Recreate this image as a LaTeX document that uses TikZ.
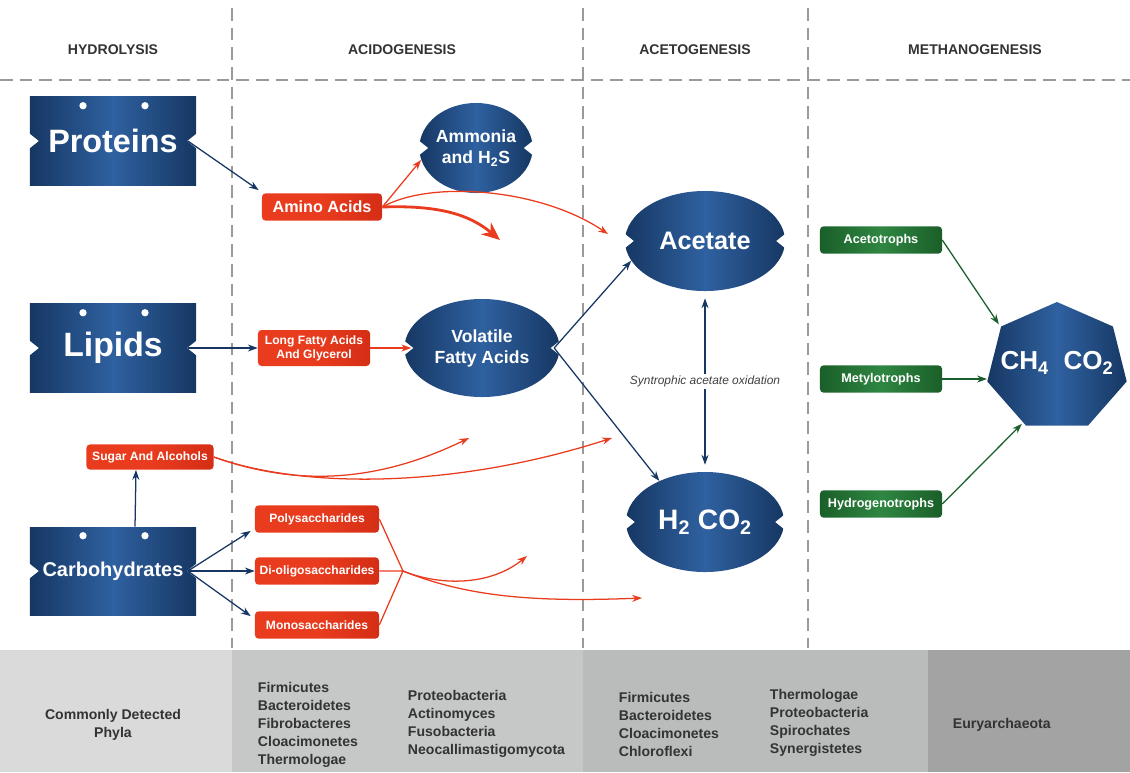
\documentclass[tikz,border=0pt]{standalone}
\usepackage{fontspec}
\setmainfont{Liberation Sans}
\usetikzlibrary{shapes.geometric,positioning,arrows.meta}

\definecolor{navy}{HTML}{163763}
\definecolor{navylight}{HTML}{2F61A0}
\definecolor{rojo}{HTML}{E93C1E}
\definecolor{rojodark}{HTML}{D42E16}
\definecolor{verde}{HTML}{1A5F29}
\definecolor{verdelight}{HTML}{2F8642}
\definecolor{linea}{HTML}{9A9A9A}
\definecolor{gris1}{HTML}{DADADA}
\definecolor{gris2}{HTML}{C6C8C8}
\definecolor{gris3}{HTML}{BABCBC}
\definecolor{gris4}{HTML}{A3A3A3}

\tikzset{
	sustrato/.style={rectangle, left color=navy, right color=navy, middle color=navylight,
		text=white, minimum width=4.15cm, minimum height=2.2cm},
	producto/.style={ellipse, left color=navy, right color=navy, middle color=navylight,
		text=white, align=center, inner sep=0pt},
	interm/.style={rectangle, rounded corners=2.5pt, left color=rojo, right color=rojodark, middle color=rojo,
		text=white, font=\bfseries\fontsize{8.6}{10}\selectfont, minimum width=3.1cm,
		minimum height=0.68cm, align=center, inner sep=1pt},
	microbio/.style={rectangle, rounded corners=2.5pt, left color=verde, right color=verde, middle color=verdelight,
		text=white, font=\bfseries\fontsize{9}{11}\selectfont, minimum width=3.05cm,
		minimum height=0.68cm},
	fase/.style={font=\bfseries\fontsize{10}{12}\selectfont, text=black!80},
	filo/.style={font=\bfseries\fontsize{10}{12.8}\selectfont, text=black!80, align=left, anchor=west},
	division/.style={linea, line width=1.1pt, dash pattern=on 9pt off 5pt},
	flechaazul/.style={navy, line width=0.9pt, -{Stealth[length=7pt,width=5pt]}},
	flecharoja/.style={rojo, line width=0.9pt, -{Stealth[length=7pt,width=5pt]}},
	flechaverde/.style={verde, line width=0.9pt, -{Stealth[length=7pt,width=5pt]}}
}

% muescas blancas a los lados de una forma
\newcommand{\muesca}[1]{%
	\fill[white] ([shift={(-1,-8)}]#1.west) -- ([shift={(9,0)}]#1.west) -- ([shift={(-1,8)}]#1.west) -- cycle;
	\fill[white] ([shift={(1,-8)}]#1.east) -- ([shift={(-9,0)}]#1.east) -- ([shift={(1,8)}]#1.east) -- cycle;}
\newcommand{\ojales}[1]{%
	\fill[white] ([shift={(-30,9)}]#1.north) circle (2.6pt) ([shift={(32,9)}]#1.north) circle (2.6pt);}

\begin{document}
\begin{tikzpicture}[x=0.025cm, y=-0.025cm]
	\useasboundingbox (0,0) rectangle (1130,772);
	
	% franja de filos
	\fill[gris1] (0,650) rectangle (232,772);
	\fill[gris2] (232,650) rectangle (583,772);
	\fill[gris3] (583,650) rectangle (928,772);
	\fill[gris4] (928,650) rectangle (1130,772);
	
	% divisiones
	\draw[division] (0,80) -- (1130,80);
	\foreach \x in {232,583,808}
		\draw[division] (\x,8) -- (\x,648);
	
	% fases
	\node[fase] (hidrolisis) at (113,50) {HYDROLYSIS};
	\node[fase] (acidogenesis) at (402,50) {ACIDOGENESIS};
	\node[fase] (acetogenesis) at (695,50) {ACETOGENESIS};
	\node[fase] (metanogenesis) at (975,50) {METHANOGENESIS};
	
	% sustratos
	\node[sustrato, font=\bfseries\fontsize{23}{27}\selectfont] (proteinas) at (113,141) {Proteins};
	\node[sustrato, font=\bfseries\fontsize{24}{28}\selectfont] (lipidos) at (113,348) {Lipids};
	\node[sustrato, font=\bfseries\fontsize{14.2}{17}\selectfont] (carbo) at (113,571) {Carbohydrates};
	\foreach \n in {proteinas,lipidos,carbo}{\muesca{\n}\ojales{\n}}
	
	% productos
	\node[producto, minimum width=2.55cm, minimum height=2.25cm,
		font=\bfseries\fontsize{12.5}{15}\selectfont] (amonio) at (476,148) {Ammonia\\and H\textsubscript{2}S};
	\node[producto, minimum width=4cm, minimum height=2.5cm,
		font=\bfseries\fontsize{18}{21}\selectfont] (acetato) at (705,241) {Acetate};
	\node[producto, minimum width=3.875cm, minimum height=2.45cm,
		font=\bfseries\fontsize{12.5}{15}\selectfont] (volatiles) at (482,348) {Volatile\\Fatty Acids};
	\node[producto, minimum width=3.95cm, minimum height=2.5cm,
		font=\bfseries\fontsize{20}{24}\selectfont] (hidrogeno) at (705,522) {H\textsubscript{2} CO\textsubscript{2}};
	\foreach \n in {amonio,acetato,volatiles,hidrogeno}{\muesca{\n}}
	\begin{scope}[shift={(1057,367)}, xscale=1.1]
		\node[regular polygon, regular polygon sides=7, minimum size=3.25cm, inner sep=0pt, transform shape,
			left color=navy, right color=navy, middle color=navylight] (metano) at (0,0) {};
	\end{scope}
	\node[text=white, font=\bfseries\fontsize{18.5}{22}\selectfont] (metanotexto) at (1057,363) {CH\textsubscript{4}\ \ CO\textsubscript{2}};
	
	% intermedios
	\node[interm, minimum width=3cm, font=\bfseries\fontsize{11.5}{13}\selectfont] (amino) at (322,207) {Amino Acids};
	\node[interm, minimum width=2.8cm, minimum height=0.9cm] (grasos) at (314,348) {Long Fatty Acids\\And Glycerol};
	\node[interm, minimum width=3.175cm, minimum height=0.63cm] (azucar) at (150,457) {Sugar And Alcohols};
	\node[interm] (poli) at (317,519) {Polysaccharides};
	\node[interm] (dioli) at (317,571) {Di-oligosaccharides};
	\node[interm] (mono) at (317,625) {Monosaccharides};
	
	% metanogenos
	\node[microbio] (acetotrofos) at (881,240) {Acetotrophs};
	\node[microbio] (metilotrofos) at (881,379) {Metylotrophs};
	\node[microbio] (hidrogenotrofos) at (881,504) {Hydrogenotrophs};
	
	% puntos libres
	\coordinate (finAmAc) at (608,234);
	\coordinate (finAmino) at (500,240);
	\coordinate (finAzucarA) at (469,438);
	\coordinate (finAzucarB) at (612,438);
	\coordinate (nudo) at (403,571);
	\coordinate (finOligoA) at (527,556);
	\coordinate (finOligoB) at (642,598);
	
	% hidrolisis
	\draw[flechaazul] ([xshift=-6pt]proteinas.east) -- ([shift={(-3,-3)}]amino.north west);
	\draw[flechaazul] ([xshift=-6pt]lipidos.east) -- (grasos.west);
	\draw[flechaazul] ([xshift=0.55cm]carbo.north) -- ([xshift=-0.35cm]azucar.south);
	\draw[flechaazul] ([xshift=-6pt]carbo.east) -- ([shift={(-4,-2)}]poli.south west);
	\draw[flechaazul] ([xshift=-6pt]carbo.east) -- (dioli.west);
	\draw[flechaazul] ([xshift=-6pt]carbo.east) -- ([shift={(-4,5)}]mono.north west);
	
	% acidogenesis
	\draw[flecharoja] (amino.east) -- ([shift={(2,12)}]amonio.west);
	\draw[flecharoja] (amino.east) .. controls (430,180) and (540,188) .. (finAmAc);
	\draw[rojo, line width=2pt, -{Stealth[length=13pt,width=11pt]}] (amino.east) .. controls (440,205) and (470,215) .. (finAmino);
	\draw[flecharoja] (grasos.east) -- ([xshift=5pt]volatiles.west);
	\draw[flecharoja] (azucar.east) .. controls (290,484) and (370,486) .. (finAzucarA);
	\draw[flecharoja] (azucar.east) .. controls (300,488) and (450,490) .. (finAzucarB);
	\draw[rojo, line width=0.9pt] (poli.east) -- (nudo) (dioli.east) -- (nudo) (mono.east) -- (nudo);
	\draw[flecharoja] (nudo) .. controls (440,586) and (490,586) .. (finOligoA);
	\draw[flecharoja] (nudo) .. controls (470,598) and (540,602) .. (finOligoB);
	
	% acetogenesis
	\draw[flechaazul] ([xshift=-4pt]volatiles.east) -- (acetato.195);
	\draw[flechaazul] ([xshift=-4pt]volatiles.east) -- (hidrogeno.138);
	\draw[navy, line width=0.9pt, {Stealth[length=7pt,width=5pt]}-{Stealth[length=7pt,width=5pt]},
		shorten <=5pt, shorten >=5pt] (acetato.south) -- (hidrogeno.north)
		node[midway, fill=white, inner sep=1.5pt, text=black!75,
		font=\itshape\fontsize{8.5}{10}\selectfont] (sintrofia) {Syntrophic acetate oxidation};
	
	% metanogenesis
	\draw[flechaverde] (acetotrofos.east) -- ([shift={(-2,-2)}]metano.corner 2);
	\draw[flechaverde] (metilotrofos.east) -- (metilotrofos.east -| metano.corner 3);
	\draw[flechaverde] (hidrogenotrofos.east) -- ([shift={(-4,-2)}]metano.corner 4);
	
	% filos
	\node[filo, align=center, anchor=center] (comun) at (113,725) {Commonly Detected\\Phyla};
	\node[filo] (acido1) at (253,725) {Firmicutes\\Bacteroidetes\\Fibrobacteres\\Cloacimonetes\\Thermologae};
	\node[filo] (acido2) at (403,724) {Proteobacteria\\Actinomyces\\Fusobacteria\\Neocallimastigomycota};
	\node[filo] (aceto1) at (614,724) {Firmicutes\\Bacteroidetes\\Cloacimonetes\\Chloroflexi};
	\node[filo] (aceto2) at (765,723) {Thermologae\\Proteobacteria\\Spirochates\\Synergistetes};
	\node[filo] (arqueas) at (948,725) {Euryarchaeota};
\end{tikzpicture}
\end{document}
